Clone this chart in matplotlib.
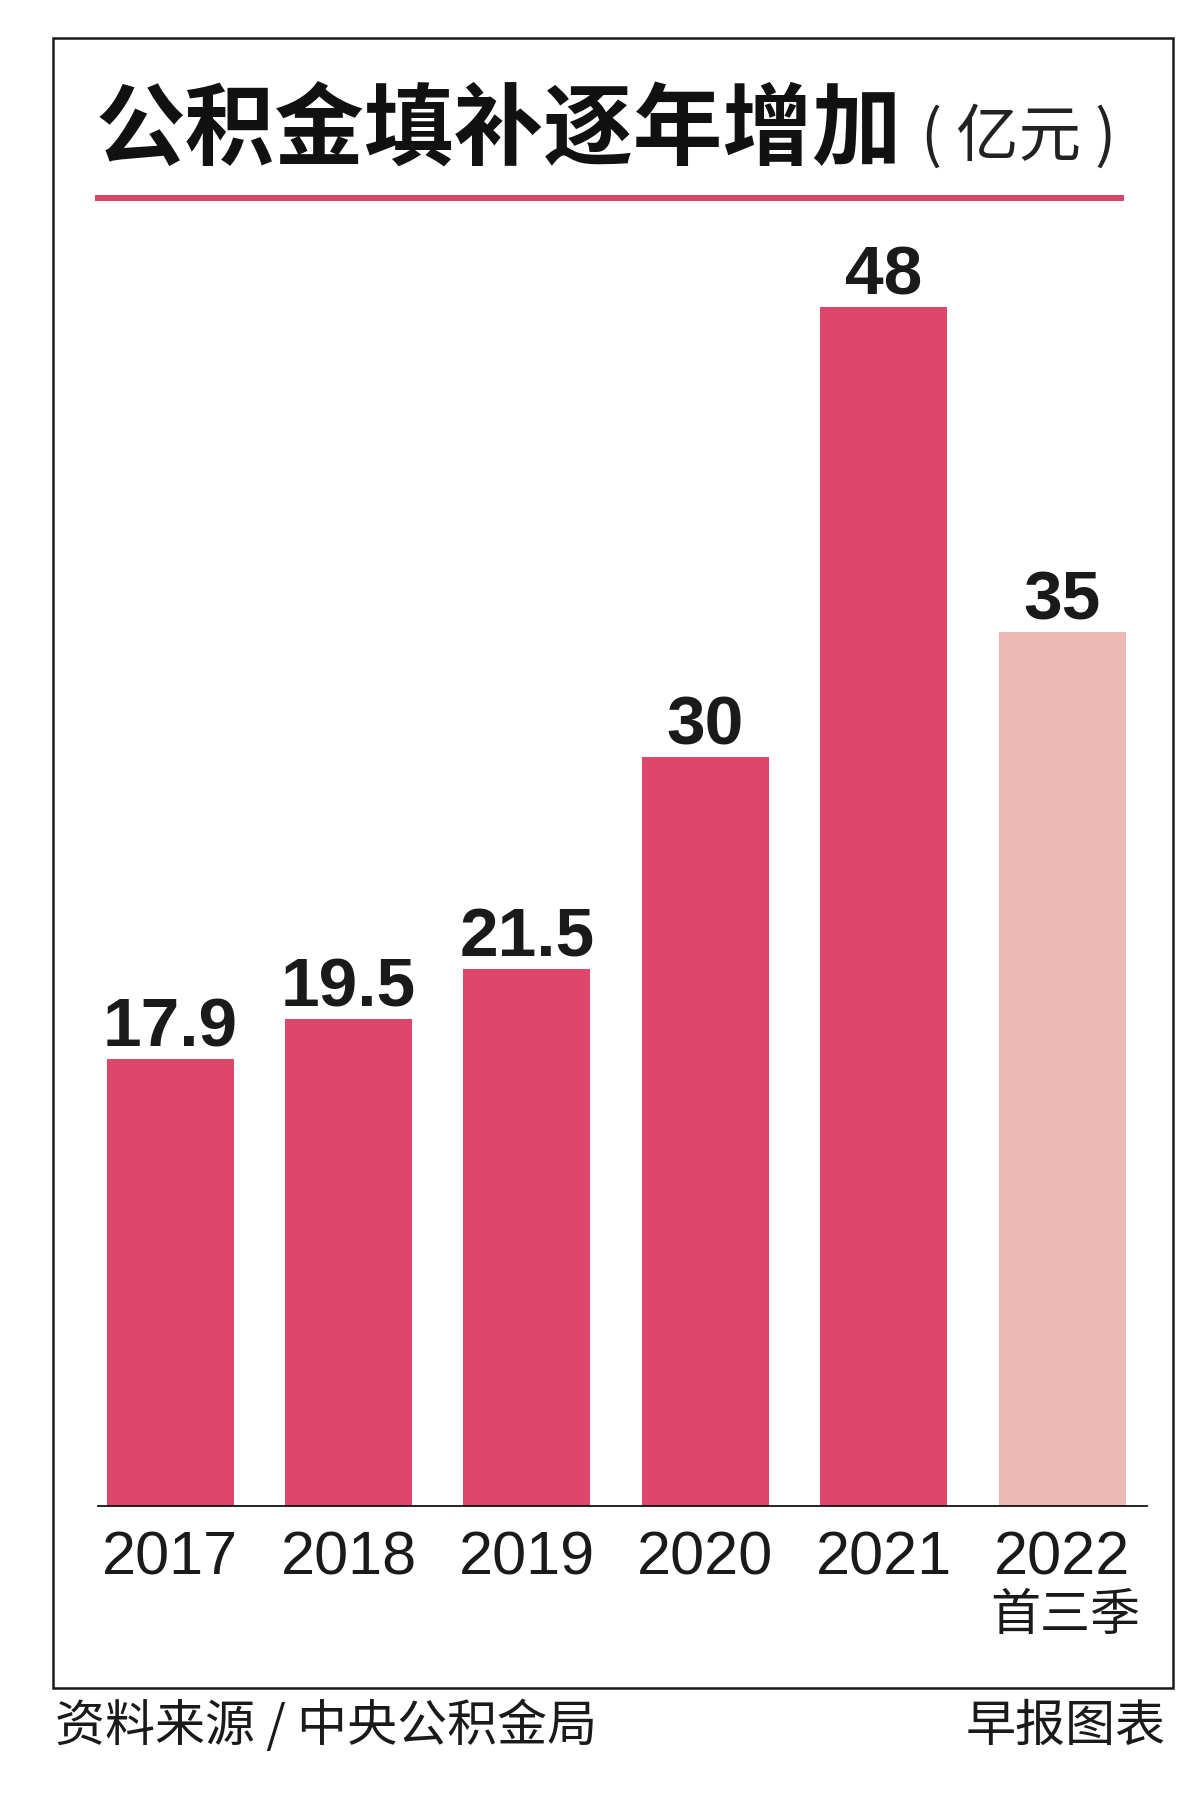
import matplotlib
matplotlib.use("Agg")
import matplotlib.pyplot as plt
from matplotlib.patches import Rectangle
from matplotlib.lines import Line2D

plt.rcParams['font.family'] = ['Liberation Sans', 'Noto Sans CJK SC', 'DejaVu Sans']

years = ['2017', '2018', '2019', '2020', '2021', '2022']
values = [17.9, 19.5, 21.5, 30, 48, 35]
value_labels = ['17.9', '19.5', '21.5', '30', '48', '35']
colors = ['#DE466A'] * 5 + ['#EDB9B4']

W, H = 1200, 1817
fig = plt.figure(figsize=(W / 100, H / 100), dpi=100)

def fx(px):
    return px / W

def fy(py):
    return 1 - py / H

# frame
fig.patches.append(Rectangle((fx(53), fy(1688)), fx(1173) - fx(53), fy(38) - fy(1688),
                             transform=fig.transFigure, fill=False, lw=1.8, ec='#1a1a1a'))

# title
fig.text(fx(96), fy(132), '公积金填补逐年增加', fontsize=64.5, fontweight='heavy',
         family=['Noto Sans CJK SC'], va='center', ha='left', color='#111111')
fig.text(fx(921), fy(137), '( 亿元 )', fontsize=45, fontweight='light',
         family=['Noto Sans CJK SC'], va='center', ha='left', color='#222222')
fig.lines.append(Line2D([fx(98), fx(1121)], [fy(198), fy(198)], transform=fig.transFigure,
                        lw=4.3, color='#D94566'))

# bars
ax = fig.add_axes([fx(98), fy(1506), fx(1147) - fx(98), fy(250) - fy(1506)])
x = range(len(years))
ax.bar(x, values, width=0.712, color=colors, edgecolor=colors, linewidth=0)
ax.set_xlim(-0.404, 5.476)
ax.set_ylim(0, 48 * (1506 - 250) / (1506 - 307))
for s in ['top', 'left', 'right']:
    ax.spines[s].set_visible(False)
ax.spines['bottom'].set_linewidth(1.3)
ax.spines['bottom'].set_color('#111111')
ax.set_xticks([])
ax.set_yticks([])
ax.patch.set_alpha(0)

for i, (v, lab) in enumerate(zip(values, value_labels)):
    ax.annotate(lab, (i, v), xytext=(0, 9), textcoords='offset points',
                ha='center', va='baseline', fontsize=50, fontweight='bold', color='#1a1a1a')
    ax.annotate(years[i], (i, 0), xytext=(0, -49), textcoords='offset points',
                ha='center', va='baseline', fontsize=44, color='#1a1a1a')

ax.annotate('首三季', (5, 0), xytext=(2, -79), textcoords='offset points',
            ha='center', va='center', fontsize=36, family=['Noto Sans CJK SC'], color='#1a1a1a')

# footer
fig.text(fx(55), fy(1727), '资料来源 / 中央公积金局', fontsize=36, family=['Noto Sans CJK SC'],
         va='center', ha='left', color='#1a1a1a')
fig.text(fx(1166), fy(1727), '早报图表', fontsize=36, family=['Noto Sans CJK SC'],
         va='center', ha='right', color='#1a1a1a')

fig.savefig('out.png', dpi=100, facecolor='white')
